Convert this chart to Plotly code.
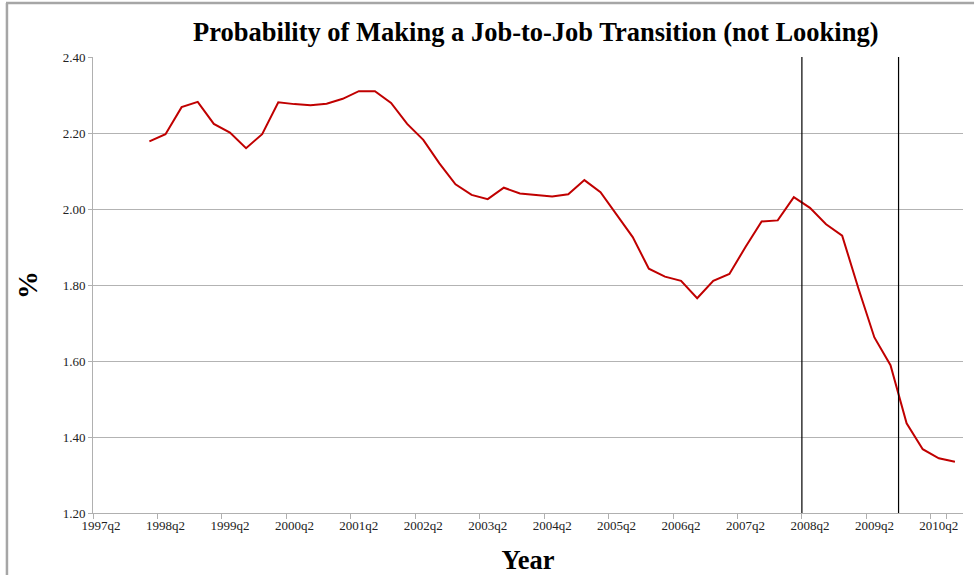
import plotly.graph_objects as go

# Quarterly categories 1997q2 .. 2010q3
quarters = [f"{y}q{q}" for y in range(1997, 2011) for q in range(1, 5)]
quarters = quarters[quarters.index("1997q2"):quarters.index("2010q3") + 1]

# Job-to-job transition probability (%), 1998q1 .. 2010q3
series_start = "1998q1"
prob = [
    2.178, 2.197, 2.268, 2.282, 2.224, 2.201, 2.160, 2.197,
    2.281, 2.276, 2.273, 2.277, 2.290, 2.310, 2.310, 2.279,
    2.224, 2.182, 2.120, 2.065, 2.037, 2.026, 2.056, 2.041,
    2.037, 2.033, 2.039, 2.076, 2.044, 1.985, 1.926, 1.843,
    1.822, 1.811, 1.765, 1.811, 1.829, 1.900, 1.967, 1.970,
    2.031, 2.003, 1.960, 1.930, 1.792, 1.662, 1.589, 1.436,
    1.368, 1.344, 1.335,
]
i0 = quarters.index(series_start)
x_vals = quarters[i0:i0 + len(prob)]

# Vertical markers at category boundaries (before 2008q2 and before 2009q4)
marker_quarters = ["2008q2", "2009q4"]

tick_labels = [q for q in quarters if q.endswith("q2")]

serif = "Liberation Serif"

fig = go.Figure()
fig.add_trace(go.Scatter(
    x=x_vals, y=prob, mode="lines",
    line=dict(color="#c00000", width=2),
    showlegend=False, hoverinfo="skip",
))

for mq in marker_quarters:
    fig.add_shape(type="line", xref="x", yref="y",
                  x0=quarters.index(mq) - 0.5, x1=quarters.index(mq) - 0.5,
                  y0=1.2, y1=2.4, line=dict(color="black", width=1.2))

# Outer chart frame (top and left edges)
fig.add_shape(type="line", xref="paper", yref="paper",
              x0=-0.1, x1=1.0127, y0=1.1184, y1=1.1184,
              line=dict(color="#a6a6a6", width=2.5))
fig.add_shape(type="line", xref="paper", yref="paper",
              x0=-0.0989, x1=-0.0989, y0=-0.2, y1=1.1184,
              line=dict(color="#a6a6a6", width=2.5))

fig.update_layout(
    width=977, height=575,
    margin=dict(l=93, r=14, t=57, b=62, autoexpand=False),
    paper_bgcolor="white", plot_bgcolor="white",
    font=dict(family=serif, color="black"),
    title=dict(
        text="<b>Probability of Making a Job-to-Job Transition (not Looking)</b>",
        x=0.509, xref="paper", xanchor="center", y=0.945, yanchor="middle",
        font=dict(family=serif, size=26.5, color="black"),
    ),
    xaxis=dict(
        type="category", categoryorder="array", categoryarray=quarters,
        range=[-0.5, len(quarters) - 0.5],
        tickmode="array", tickvals=tick_labels, ticktext=tick_labels,
        tickson="boundaries", ticks="outside", ticklen=5, tickcolor="#b0b0b0",
        tickangle=0, automargin=False,
        showgrid=False, showline=True, linecolor="#b0b0b0", linewidth=1,
        tickfont=dict(family=serif, size=13, color="#222"),
        title=dict(text="<b>Year</b>", font=dict(family=serif, size=26.5, color="black"),
                   standoff=19),
        zeroline=False,
    ),
    yaxis=dict(
        range=[1.2, 2.4], tickmode="linear", tick0=1.2, dtick=0.2,
        tickformat=".2f", ticks="outside", ticklen=4, tickcolor="#b0b0b0",
        automargin=False,
        showgrid=True, gridcolor="#b3b3b3", gridwidth=1,
        showline=True, linecolor="#b0b0b0", linewidth=1,
        tickfont=dict(family=serif, size=13, color="#222"),
        title=dict(text="<b>%</b>", font=dict(family=serif, size=28, color="black"),
                   standoff=16),
        zeroline=False,
    ),
)

fig.write_html("out.html")
